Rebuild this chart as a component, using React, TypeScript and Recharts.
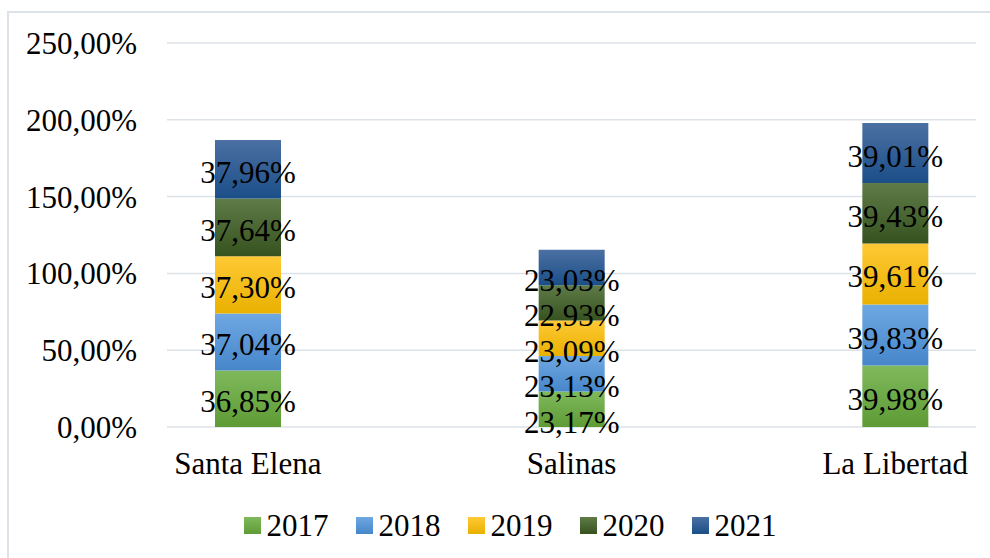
import {
  Bar,
  BarChart,
  CartesianGrid,
  LabelList,
  Legend,
  XAxis,
  YAxis,
} from "recharts";

const cantones = ["Santa Elena", "Salinas", "La Libertad"];
const years = ["2017", "2018", "2019", "2020", "2021"];

const v2017 = [36.85, 23.17, 39.98];
const v2018 = [37.04, 23.13, 39.83];
const v2019 = [37.3, 23.09, 39.61];
const v2020 = [37.64, 22.93, 39.43];
const v2021 = [37.96, 23.03, 39.01];

const yTicks = [0, 50, 100, 150, 200, 250];

// top / bottom colours of the Excel-style gradient fill
const gradients: [string, string][] = [
  ["#7fb95c", "#5e9b35"],
  ["#6fa8e2", "#4686ca"],
  ["#ffc935", "#e9b100"],
  ["#5f7b47", "#36531f"],
  ["#4b70a3", "#1b4e88"],
];

const seriesValues = [v2017, v2018, v2019, v2020, v2021];

const data = cantones.map((name, i) => {
  const row: Record<string, string | number> = { name };
  years.forEach((y, k) => {
    row[y] = seriesValues[k][i];
  });
  return row;
});

const FONT = "'Liberation Serif', 'Times New Roman', serif";

const pct = (v: number) => `${v.toFixed(2).replace(".", ",")}%`;

const SegmentLabel = (props: any) => {
  const { x, y, width, height, value } = props;
  // Excel nudges labels down a bit more when they don't fit in the segment
  const shift = height < 45 ? 13 : 3;
  return (
    <text
      x={x + width / 2}
      y={y + height / 2 + 10.5 + shift}
      textAnchor="middle"
      fontFamily={FONT}
      fontSize={31}
      fill="#000"
    >
      {pct(Number(value))}
    </text>
  );
};

const LegendBox = () => (
  <div
    style={{
      height: 50,
      display: "flex",
      justifyContent: "center",
      alignItems: "flex-start",
      paddingTop: 2,
      paddingLeft: 44,
      boxSizing: "border-box",
      fontFamily: FONT,
      fontSize: 31,
      lineHeight: "31px",
      color: "#000",
    }}
  >
    {years.map((y, k) => (
      <div
        key={y}
        style={{
          display: "flex",
          alignItems: "center",
          marginRight: k < years.length - 1 ? 27 : 0,
        }}
      >
        <span
          style={{
            width: 17,
            height: 17,
            marginRight: 6,
            background: `linear-gradient(${gradients[k][0]}, ${gradients[k][1]})`,
          }}
        />
        <span>{y}</span>
      </div>
    ))}
  </div>
);

const App = () => {
  return (
    <div
      style={{
        position: "absolute",
        left: 0,
        top: 0,
        width: 990,
        height: 558,
        overflow: "hidden",
        background: "#fff",
      }}
    >
      <div
        style={{
          position: "absolute",
          left: 7,
          top: 11,
          width: 1000,
          height: 600,
          border: "2px solid #dde2e8",
        }}
      />
      <BarChart
        width={990}
        height={558}
        data={data}
        margin={{ top: 43, right: 14, bottom: 0, left: 0 }}
        style={{ position: "absolute", left: 0, top: 0 }}
      >
        <defs>
          {gradients.map(([top, bottom], k) => (
            <linearGradient key={k} id={`grad${k}`} x1="0" y1="0" x2="0" y2="1">
              <stop offset="0%" stopColor={top} />
              <stop offset="100%" stopColor={bottom} />
            </linearGradient>
          ))}
        </defs>
        <CartesianGrid vertical={false} stroke="#dde2e8" strokeWidth={1.5} />
        <XAxis
          dataKey="name"
          axisLine={false}
          tickLine={false}
          tickSize={0}
          tickMargin={25}
          height={81}
          padding={{ left: -81, right: -81 }}
          tick={{ fill: "#000", fontSize: 31, fontFamily: FONT }}
        />
        <YAxis
          domain={[0, 250]}
          ticks={yTicks}
          width={167}
          axisLine={false}
          tickLine={false}
          tickSize={0}
          tickMargin={30}
          tickFormatter={(v: number) => pct(v)}
          tick={{ fill: "#000", fontSize: 31, fontFamily: FONT }}
        />
        <Legend verticalAlign="bottom" content={() => <LegendBox />} />
        {years.map((y, k) => (
          <Bar
            key={y}
            dataKey={y}
            stackId="a"
            barSize={66}
            fill={`url(#grad${k})`}
            isAnimationActive={false}
          >
            <LabelList dataKey={y} content={SegmentLabel} />
          </Bar>
        ))}
      </BarChart>
    </div>
  );
};

export default App;
